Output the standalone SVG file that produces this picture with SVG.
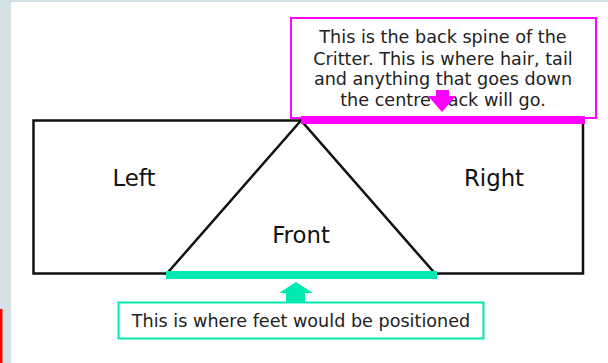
<svg xmlns="http://www.w3.org/2000/svg" width="608" height="363" viewBox="0 0 608 363">
<style>
.lbl{font-family:"DejaVu Sans",Verdana,sans-serif;font-size:22.8px;fill:#111;text-anchor:middle}
.note{font-family:"DejaVu Sans",Verdana,sans-serif;font-size:17.6px;fill:#222;text-anchor:middle}
.shape{fill:none;stroke:#111;stroke-width:2.5;stroke-linejoin:miter}
</style>
<rect x="0" y="0" width="608" height="363" fill="#ffffff"/>
<rect x="0" y="0" width="11" height="363" fill="#d3e0e4"/>
<rect x="0" y="0" width="608" height="2" fill="#d3e0e4"/>
<rect x="0" y="309" width="2.5" height="54" fill="#ff0000"/>
<g id="body">
<rect class="shape" x="33.5" y="120.5" width="549.5" height="153"/>
</g>
<g id="front">
<polygon class="shape" points="301,120.5 167,273.5 435,273.5"/>
<text class="lbl" x="301" y="243">Front</text>
</g>
<g id="left">
<text class="lbl" x="134" y="186">Left</text>
</g>
<g id="right">
<text class="lbl" x="494" y="186">Right</text>
</g>
<g id="spine-note">
<rect x="291" y="18" width="305" height="100" fill="#fff" stroke="#ff00ff" stroke-width="2"/>
<text class="note"><tspan x="443" y="43">This is the back spine of the</tspan><tspan x="443" y="64.5">Critter. This is where hair, tail</tspan><tspan x="443" y="85">and anything that goes down</tspan><tspan x="443" y="106">the centre back will go.</tspan></text>
</g>
<g id="feet-note">
<rect x="118.5" y="302.5" width="365" height="36" fill="#fff" stroke="#00eab0" stroke-width="2"/>
<text class="note" x="301" y="327">This is where feet would be positioned</text>
</g>
<g id="connectors">
<rect x="301" y="116" width="284" height="8" fill="#ff00ff"/>
<polygon points="436,90 449,90 449,96 456,96 442,112 428,96 436,96" fill="#ff00ff"/>
<rect x="166" y="271" width="271" height="8" fill="#00eab0"/>
<polygon points="296,282 313,293 305,293 305,302 286,302 286,293 279,293" fill="#00eab0"/>
</g>
</svg>
